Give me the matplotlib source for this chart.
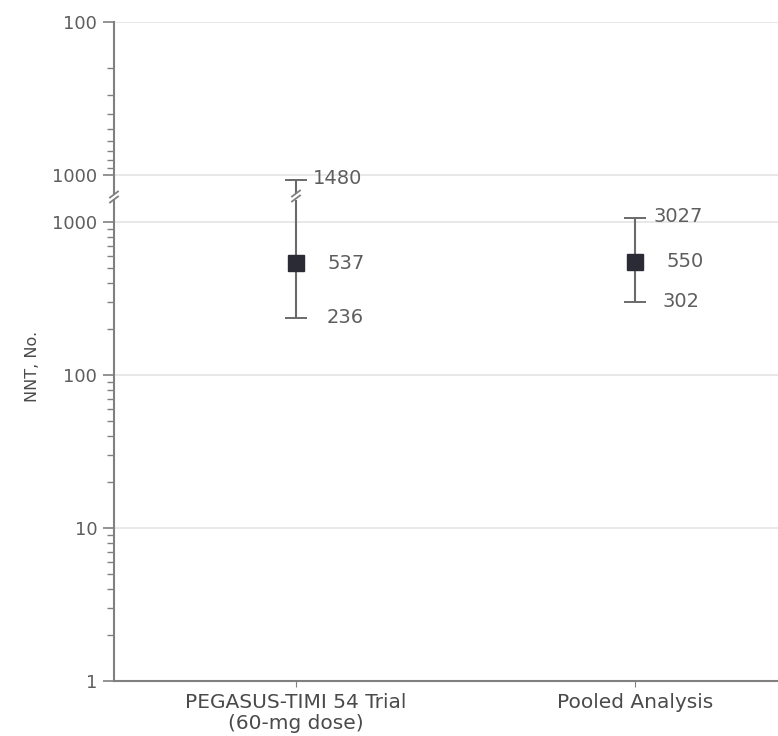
import numpy as np
import matplotlib.pyplot as plt
from matplotlib.lines import Line2D
from matplotlib.ticker import FixedLocator, NullFormatter, FuncFormatter

# NNT with 95% CI; the PEGASUS interval crosses into harm (NNH)
studies = ["PEGASUS-TIMI 54 Trial\n(60-mg dose)", "Pooled Analysis"]
nnt_point = [537, 550]
nnt_lower = [236, 302]
nnt_upper = [np.inf, 3027]     # inf -> bar runs up through the break
nnh_end = [1480, np.nan]       # harm side end of the interval

x = np.arange(len(studies))

gray = "#5e5e5e"
spine_c = "#808080"
grid_c = "#e4e4e4"


def make_scale(k):
    # log below 1000, squeezed log above it
    def fwd(v):
        lv = np.log10(np.clip(np.asarray(v, float), 1e-12, None))
        return np.where(lv <= 3, lv, 3 + k * (lv - 3))

    def inv(p):
        p = np.asarray(p, float)
        with np.errstate(over="ignore"):
            return np.where(p <= 3, 10.0 ** p, 10.0 ** (3 + (p - 3) / np.float64(k)))
    return fwd, inv


fig = plt.figure(figsize=(7.78, 7.36), dpi=100)
W, H = 778, 736
left = 114 / W
ax = fig.add_axes((left, 55 / H, 1 - left, 481 / H))      # NNT (benefit)
ax_top = fig.add_axes((left, 542 / H, 1 - left, 172 / H))  # NNH side, reversed

low_f = make_scale(0.054)
top_f = make_scale(0.19)
ax.set_yscale("function", functions=low_f)
ax_top.set_yscale("function", functions=top_f)
ax.set_ylim(1, float(low_f[1](3 + 22 / 153)))
ax_top.set_ylim(float(top_f[1](3 + 19 / 153)), 100)

for a in (ax, ax_top):
    a.set_xlim(-0.537, 1.422)
    a.spines["right"].set_visible(False)
    a.spines["top"].set_visible(False)
    for s in a.spines.values():
        s.set_color(spine_c)
        s.set_linewidth(1.5)
    a.tick_params(axis="y", which="major", direction="out", length=8,
                  width=1.2, color=spine_c, labelsize=13, labelcolor=gray, pad=4)
    a.tick_params(axis="y", which="minor", direction="out", length=5,
                  width=1.0, color=spine_c)
    a.yaxis.set_major_formatter(FuncFormatter(lambda v, _: f"{v:g}"))
    a.yaxis.set_minor_formatter(NullFormatter())
    a.grid(axis="y", which="major", color=grid_c, lw=1.2)
    a.set_axisbelow(True)

ax.yaxis.set_major_locator(FixedLocator([1, 10, 100, 1000]))
ax.yaxis.set_minor_locator(FixedLocator([m * 10 ** d for d in range(3) for m in range(2, 10)]))
ax_top.yaxis.set_major_locator(FixedLocator([100, 1000]))
ax_top.yaxis.set_minor_locator(FixedLocator([m * 100 for m in range(2, 10)]))
ax_top.spines["bottom"].set_visible(False)
ax_top.set_xticks([])

ax.set_xticks(x, studies)
ax.tick_params(axis="x", direction="out", length=4, color=spine_c,
               labelsize=14.5, labelcolor="#4a4a4a", pad=5)
for t in ax.get_xticklabels():
    t.set_linespacing(1.1)
ax.set_ylabel("NNT, No.", fontsize=11.5, color="#4a4a4a")
ax.yaxis.set_label_coords(-0.112, 0.653)

# interval bars
top_lim = ax.get_ylim()[1]
ax.vlines(x, nnt_lower, np.minimum(nnt_upper, top_lim), color="#6a6a6a", lw=1.5, zorder=2)
cap = dict(marker="_", ms=16, mew=1.4, color="#6a6a6a", ls="none", zorder=2)
ax.plot(x, nnt_lower, **cap)
ax.plot(x, nnt_upper, **cap)
ax.plot(x, nnt_point, marker="s", ms=11, color="#2b2b36", ls="none", zorder=3)

bot_lim = ax_top.get_ylim()[0]
harm = ~np.isnan(nnh_end)
ax_top.vlines(x[harm], np.array(nnh_end)[harm], bot_lim, color="#6a6a6a", lw=1.5)
ax_top.plot(x, nnh_end, **cap)

# value labels
lbl = dict(textcoords="offset points", va="center", ha="left", fontsize=14, color=gray)
pt_off = [23, 23]
lo_off = [22, 20]
for i in range(len(x)):
    ax.annotate(f"{nnt_point[i]}", (x[i], nnt_point[i]), xytext=(pt_off[i], 0), **lbl)
    ax.annotate(f"{nnt_lower[i]}", (x[i], nnt_lower[i]), xytext=(lo_off[i], 0), **lbl)
    if np.isfinite(nnt_upper[i]):
        ax.annotate(f"{nnt_upper[i]}", (x[i], nnt_upper[i]), xytext=(13, 1), **lbl)
    if not np.isnan(nnh_end[i]):
        ax_top.annotate(f"{nnh_end[i]:g}", (x[i], nnh_end[i]), xytext=(12, 1), **lbl)


# axis-break marks on the spine and on the bar that crosses it
def break_mark(px, py):
    for dy in (-2.5, 2.5):
        fig.add_artist(Line2D([(px - 4) / W, (px + 4) / W],
                              [(H - py - 3 + dy) / H, (H - py + 3 + dy) / H],
                              transform=fig.transFigure, color=spine_c, lw=1.3))


break_mark(114, 197)
break_mark(296, 196)

fig.savefig("out.png", dpi=100)
